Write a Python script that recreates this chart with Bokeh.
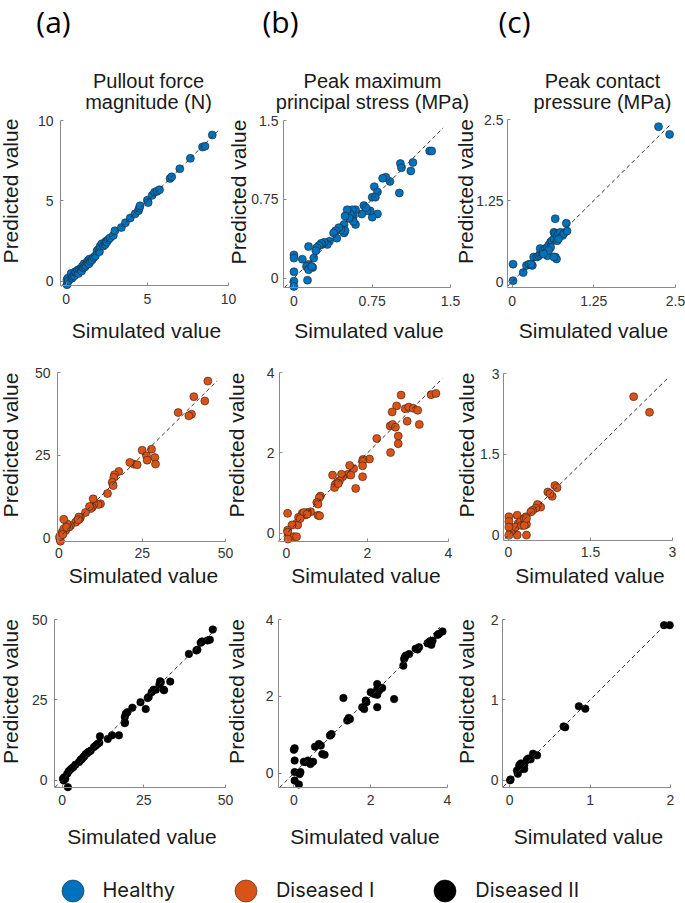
import math
from bokeh.plotting import figure
from bokeh.models import Range1d, FixedTicker, Label, Legend, LegendItem, LinearAxis
from bokeh.embed import file_html
from bokeh.resources import INLINE

# ---------------- data ----------------
panel_tags = ["(a)", "(b)", "(c)"]
column_titles = [["Pullout force", "magnitude (N)"],
                 ["Peak maximum", "principal stress (MPa)"],
                 ["Peak contact", "pressure (MPa)"]]
groups = ["Healthy", "Diseased I", "Diseased II"]
group_fill = ["#0072BD", "#D95319", "#000000"]
group_edge = ["#1b2733", "#3b1e0e", "#000000"]
x_label = "Simulated value"
y_label = "Predicted value"

# Healthy
healthy_force_sim = [0.05, 0.05, 0.1, 0.15, 0.3, 0.35, 0.4, 0.5, 0.55, 0.6, 0.7, 0.75, 0.8, 0.9, 0.95,
                     1.0, 1.05, 1.1, 1.15, 1.2, 1.3, 1.35, 1.4, 1.45, 1.5, 1.6, 1.7, 1.8, 1.9, 2.0,
                     2.05, 2.1, 2.2, 2.3, 2.4, 2.45, 2.5, 2.6, 2.7, 2.9, 3.0, 3.4, 3.65, 3.95, 4.25,
                     4.45, 4.5, 4.55, 5.0, 5.05, 5.3, 5.45, 5.6, 5.75, 6.4, 6.5, 7.0, 7.65, 8.4, 8.55, 9.0]
healthy_force_pred = [-0.2, 0.1, 0.2, 0.05, 0.5, 0.2, 0.3, 0.35, 0.6, 0.55, 0.7, 0.5, 0.75, 0.8, 0.65,
                      0.95, 0.85, 1.1, 0.9, 1.0, 1.2, 1.3, 1.1, 1.4, 1.25, 1.35, 1.5, 1.6, 1.9, 2.0,
                      1.85, 2.2, 2.35, 2.2, 2.3, 2.5, 2.45, 2.6, 2.7, 2.85, 3.15, 3.35, 3.65, 3.95, 4.2,
                      4.4, 4.55, 4.7, 5.05, 4.9, 5.35, 5.55, 5.6, 5.7, 6.4, 6.5, 7.0, 7.65, 8.35, 8.4, 9.1]

healthy_stress_sim = [1.30, 1.32, 1.14, 1.12, 1.02, 1.03, 1.01, 0.92, 0.88, 0.85, 0.77, 0.80, 0.75, 0.78,
                      0.80, 0.75, 0.73, 0.70, 0.67, 0.69, 0.65, 0.59, 0.57, 0.59, 0.57, 0.56, 0.54, 0.53,
                      0.51, 0.49, 0.48, 0.48, 0.49, 0.45, 0.43, 0.40, 0.38, 0.41, 0.34, 0.32, 0.29, 0.27,
                      0.26, 0.24, 0.22, 0.21, 0.19, 0.18, 0.14, 0.14, 0.12, 0.14, 0.13, 0.08, 0.0, 0.0,
                      0.0, 0.0, 0.0, 0.17]
healthy_stress_pred = [1.21, 1.21, 1.10, 1.02, 1.09, 1.05, 0.81, 0.92, 0.96, 0.95, 0.87, 0.82, 0.77, 0.77,
                       0.61, 0.58, 0.64, 0.64, 0.69, 0.67, 0.61, 0.65, 0.59, 0.51, 0.54, 0.65, 0.61, 0.57,
                       0.65, 0.59, 0.51, 0.43, 0.45, 0.46, 0.48, 0.45, 0.43, 0.38, 0.35, 0.32, 0.34, 0.32,
                       0.33, 0.31, 0.29, 0.26, 0.19, 0.10, 0.13, 0.30, 0.11, 0.08, -0.02, 0.18, 0.22, 0.19,
                       0.06, -0.03, -0.08, 0.11]

healthy_contact_sim = [2.24, 2.41, 0.015, 0.015, 0.17, 0.22, 0.26, 0.31, 0.29, 0.33, 0.38, 0.41, 0.43, 0.46,
                       0.43, 0.48, 0.51, 0.54, 0.56, 0.54, 0.59, 0.61, 0.64, 0.59, 0.66, 0.68, 0.64, 0.66,
                       0.64, 0.66, 0.69, 0.71, 0.74, 0.77, 0.79, 0.83, 0.84, 0.69, 0.71, 0.56, 0.48]
healthy_contact_pred = [2.39, 2.27, 0.015, 0.27, 0.14, 0.25, 0.27, 0.25, 0.27, 0.38, 0.38, 0.40, 0.43, 0.45,
                        0.51, 0.48, 0.51, 0.53, 0.56, 0.40, 0.61, 0.63, 0.66, 0.53, 0.38, 0.35, 0.38, 0.97,
                        0.76, 0.74, 0.71, 0.74, 0.76, 0.71, 0.74, 0.90, 0.78, 0.63, 0.66, 0.48, 0.43]

# Diseased I
d1_force_sim = [44.7, 40.5, 43.8, 39.8, 39.0, 35.8, 27.8, 25.0, 28.8, 26.3, 26.5, 29.0, 22.5, 23.5, 21.3,
                18.0, 16.7, 16.5, 16.0, 16.3, 14.6, 12.5, 11.8, 10.5, 10.0, 9.5, 10.3, 8.0, 6.5, 6.2,
                5.5, 5.0, 3.5, 3.0, 2.5, 1.5, 2.0, 1.0, 0.5, 0.3, 0.5, 1.5, 2.3, 6.0, 5.8, 9.2, 0.2, 1.2]
d1_force_pred = [47.4, 42.7, 41.4, 37.4, 36.9, 37.9, 26.8, 26.5, 24.3, 24.8, 23.5, 22.3, 22.3, 22.1, 22.8,
                 20.1, 19.1, 18.3, 16.8, 15.8, 13.4, 10.3, 10.1, 10.3, 9.2, 8.9, 11.8, 7.7, 6.2, 5.7,
                 5.2, 4.7, 3.7, 3.2, 4.2, 5.6, 2.2, 1.7, 0.7, -0.3, -1.0, 2.7, 3.2, 6.3, 5.5, 9.5, 0.3, 1.0]

d1_stress_sim = [3.57, 3.69, 2.83, 2.72, 2.61, 2.93, 3.02, 3.13, 3.24, 3.28, 2.98, 2.56, 2.62, 2.69, 2.76,
                 2.76, 2.57, 2.23, 2.05, 1.89, 1.88, 1.88, 1.88, 1.66, 1.56, 1.52, 1.59, 1.71, 1.39, 1.36,
                 1.31, 1.25, 1.20, 1.19, 1.14, 0.84, 0.81, 0.75, 0.78, 0.78, 0.82, 0.60, 0.52, 0.47, 0.39,
                 0.30, 0.25, 0.28, 0.14, 0.18, 0.25, 0.03, 0.03, 0.03, 0.04, 0.43, 0.51, 0.34, 1.28]
d1_stress_pred = [3.45, 3.48, 3.44, 3.17, 3.02, 3.10, 3.14, 3.11, 3.06, 2.71, 2.79, 2.67, 2.71, 2.64, 2.42,
                  2.23, 2.01, 2.36, 1.85, 1.84, 1.79, 1.68, 1.41, 1.61, 1.69, 1.47, 1.45, 1.12, 1.41, 1.47,
                  1.31, 1.26, 1.21, 1.14, 1.45, 0.93, 0.89, 0.77, 0.73, 0.45, 0.44, 0.54, 0.52, 0.46, 0.50,
                  0.40, 0.25, 0.21, 0.21, -0.08, -0.08, 0.50, 0.08, 0.03, -0.14, 0.52, 0.48, 0.37, 1.24]

d1_contact_sim = [2.29, 2.58, 0.85, 0.89, 0.80, 0.72, 0.76, 0.59, 0.53, 0.50, 0.44, 0.41, 0.33, 0.33, 0.25,
                  0.16, 0.18, 0.16, 0.10, 0.07, 0.04, 0.13, 0.22, 0.29, 0.32, 0.01, 0.01, 0.01, 0.01, 0.24,
                  0.29, 0.33]
d1_contact_pred = [2.57, 2.28, 0.92, 0.88, 0.72, 0.80, 0.77, 0.52, 0.57, 0.50, 0.46, 0.43, 0.20, 0.0, 0.28,
                   0.37, 0.22, 0.0, 0.12, 0.09, 0.06, 0.15, 0.25, 0.31, 0.34, 0.34, 0.25, 0.15, 0.0, 0.18,
                   0.18, 0.31]

# Diseased II
d2_force_sim = [46.1, 45.2, 44.5, 42.8, 42.4, 41.1, 41.4, 38.8, 33.1, 31.1, 31.2, 28.7, 28.0, 27.4, 26.5,
                25.6, 24.0, 21.5, 20.0, 19.5, 19.2, 19.2, 19.2, 17.4, 15.3, 14.0, 11.6, 11.4, 10.9, 10.4,
                9.8, 8.8, 8.0, 7.2, 6.5, 5.7, 5.2, 4.1, 3.4, 2.8, 2.1, 1.6, 0.7, 0.3, 1.8, 0.5, 1.0, 6.0,
                6.8, 7.6, 8.4, 30.2, 29.8, 30.0, 26.2]
d2_force_pred = [46.9, 43.7, 43.5, 43.2, 42.8, 40.4, 40.6, 39.3, 30.7, 28.2, 28.0, 28.2, 28.2, 27.4, 25.9,
                 22.2, 24.3, 22.6, 21.2, 20.7, 19.7, 18.1, 17.8, 14.0, 14.0, 12.9, 13.7, 11.7, 11.4, 10.9,
                 10.4, 9.3, 8.8, 8.1, 7.2, 6.4, 5.7, 4.9, 4.1, 3.6, 2.9, 2.1, 1.0, 0.5, -2.1, 0.0, 0.5, 6.6,
                 7.5, 8.4, 9.0, 30.5, 29.9, 30.8, 25.6]

d2_stress_sim = [3.87, 3.78, 3.74, 3.61, 3.58, 3.52, 3.48, 3.26, 3.22, 3.17, 3.00, 2.91, 2.87, 2.85, 2.61,
                 2.30, 2.17, 2.17, 2.17, 2.17, 2.22, 2.00, 2.09, 1.87, 1.83, 1.89, 1.78, 1.46, 1.39, 1.43,
                 1.29, 0.98, 0.94, 0.80, 0.74, 0.70, 0.65, 0.55, 0.50, 0.43, 0.37, 0.30, 0.26, 0.17, 0.15,
                 0.13, 0.02, 0.02, 0.02, 0.02, 0.0, 0.96, 1.41, 2.89, 3.55]
d2_stress_pred = [3.69, 3.63, 3.60, 3.45, 3.34, 3.41, 3.38, 3.28, 3.22, 3.24, 3.10, 3.06, 2.97, 2.80, 1.93,
                  2.22, 2.32, 2.19, 2.04, 1.72, 2.15, 2.11, 2.06, 1.89, 1.67, 1.85, 1.72, 1.41, 1.37, 1.44,
                  1.96, 1.02, 0.98, 0.48, 0.50, 0.72, 0.76, 0.69, 0.30, 0.24, 0.33, 0.29, 0.30, 0.03, -0.02,
                  -0.29, 0.65, 0.33, 0.03, -0.19, 0.61, 1.00, 1.39, 3.02, 3.44]

d2_contact_sim = [1.92, 1.99, 0.86, 0.94, 0.67, 0.69, 0.34, 0.29, 0.26, 0.23, 0.21, 0.18, 0.16, 0.14, 0.12,
                  0.10, 0.09, 0.12, 0.01, 0.005, 0.14, 0.18]
d2_contact_pred = [1.93, 1.93, 0.92, 0.89, 0.67, 0.66, 0.31, 0.33, 0.26, 0.27, 0.25, 0.19, 0.17, 0.14, 0.19,
                   0.08, 0.12, 0.17, 0.01, 0.0, 0.21, 0.14]

# axis limits, ticks and identity-line extents per panel (row-major)
x_limits = [[-0.35, 10], [-0.1, 1.5], [-0.07, 2.5],
            [-0.4, 50], [-0.17, 4], [-0.09, 3],
            [-2.3, 50], [-0.4, 4], [-0.09, 2]]
y_limits = [[-0.25, 10], [-0.09, 1.5], [-0.09, 2.5],
            [-1.1, 50], [-0.2, 4], [-0.1, 3],
            [-2.2, 50], [-0.37, 4], [-0.09, 2]]
tick_values = [[0, 5, 10], [0, 0.75, 1.5], [0, 1.25, 2.5],
               [0, 25, 50], [0, 2, 4], [0, 1.5, 3],
               [0, 25, 50], [0, 2, 4], [0, 1, 2]]
tick_labels = [["0", "5", "10"], ["0", "0.75", "1.5"], ["0", "1.25", "2.5"],
               ["0", "25", "50"], ["0", "2", "4"], ["0", "1.5", "3"],
               ["0", "25", "50"], ["0", "2", "4"], ["0", "1", "2"]]
identity_line = [[-0.3, 9.5], [-0.09, 1.43], [-0.07, 2.42],
                 [-0.4, 47.5], [-0.2, 3.85], [-0.07, 2.9],
                 [-2.2, 47.8], [-0.37, 3.8], [-0.08, 1.98]]
sims = [healthy_force_sim, healthy_stress_sim, healthy_contact_sim,
        d1_force_sim, d1_stress_sim, d1_contact_sim,
        d2_force_sim, d2_stress_sim, d2_contact_sim]
preds = [healthy_force_pred, healthy_stress_pred, healthy_contact_pred,
         d1_force_pred, d1_stress_pred, d1_contact_pred,
         d2_force_pred, d2_stress_pred, d2_contact_pred]

# ---------------- layout (canvas pixels, from top-left) ----------------
W, H = 685, 903
frames = [[(60, 228, 120, 285), (283, 450, 120, 287), (507, 675, 119, 287)],
          [(57, 225, 372, 541), (279, 448, 372, 541), (503, 672, 373, 540)],
          [(54, 225, 619, 787), (278, 447, 619, 787), (502, 670, 619, 787)]]
ylabel_x = [[10, 238, 465], [10, 236, 466], [10, 236, 466]]
ylabel_shift = -12
xlabel_y = [330, 575, 836]
x_tick_standoff = [8, 6, 7]
y_tick_standoff = [7, 5, 4]
marker_size = [8, 8, 7.5]
tag_pos = [(53, 21), (280, 21), (514, 21)]
title_cx = [148, 372, 602]
title_cy = [80, 101]
legend_circle_x = 72
legend_circle_y = 890
leg_glyph = 55

FONT = "Liberation Sans"
AXIS_COLOR = "#8a8a8a"
TICK_TEXT = "#333333"
LABEL_TEXT = "#1a1a1a"

p = figure(width=W, height=H, output_backend="svg", toolbar_location=None,
           x_range=Range1d(0, W), y_range=Range1d(0, H),
           x_axis_type=None, y_axis_type=None, min_border=0)
p.outline_line_color = None
p.grid.visible = False

extra_x, extra_y = {}, {}
for k in range(9):
    r, c = divmod(k, 3)
    L, R, T, B = frames[r][c]
    a, b = x_limits[k]
    ppx = (R - L) / (b - a)
    extra_x[f"x{k}"] = Range1d(a - L / ppx, b + (W - R) / ppx)
    c0, d0 = y_limits[k]
    ppy = (B - T) / (d0 - c0)
    extra_y[f"y{k}"] = Range1d(c0 - (H - B) / ppy, d0 + T / ppy)
p.extra_x_ranges = extra_x
p.extra_y_ranges = extra_y


def style_axis(ax, k, standoff):
    ax.ticker = FixedTicker(ticks=tick_values[k])
    ax.major_label_overrides = {t: s for t, s in zip(tick_values[k], tick_labels[k])}
    ax.axis_line_color = AXIS_COLOR
    ax.major_tick_line_color = AXIS_COLOR
    ax.major_tick_in = 3
    ax.major_tick_out = 0
    ax.minor_tick_line_color = None
    ax.major_label_text_font = FONT
    ax.major_label_text_font_size = "14px"
    ax.major_label_text_color = TICK_TEXT
    ax.major_label_standoff = standoff


renderers = []
for k in range(9):
    r, c = divmod(k, 3)
    L, R, T, B = frames[r][c]
    xn, yn = f"x{k}", f"y{k}"
    xa = LinearAxis(x_range_name=xn, y_range_name=yn, fixed_location=y_limits[k][0],
                    bounds=tuple(x_limits[k]))
    style_axis(xa, k, x_tick_standoff[r])
    p.add_layout(xa, "below")
    ya = LinearAxis(x_range_name=xn, y_range_name=yn, fixed_location=x_limits[k][0],
                    bounds=tuple(y_limits[k]))
    style_axis(ya, k, y_tick_standoff[c])
    p.add_layout(ya, "left")

    sr = p.scatter(sims[k], preds[k], size=marker_size[r], marker="circle",
                   fill_color=group_fill[r], line_color=group_edge[r], line_width=0.6,
                   x_range_name=xn, y_range_name=yn)
    renderers.append(sr)
    p.line(identity_line[k], identity_line[k], line_color="#333333", line_width=1,
           line_dash="4 3", x_range_name=xn, y_range_name=yn)

    # axis titles
    p.add_layout(Label(x=(L + R) / 2 + 2, y=H - xlabel_y[r], x_units="screen", y_units="screen",
                       text=x_label, text_align="center", text_baseline="middle",
                       text_font=FONT, text_font_size="21px", text_color=LABEL_TEXT))
    p.add_layout(Label(x=ylabel_x[r][c], y=H - ((T + B) / 2 + ylabel_shift),
                       x_units="screen", y_units="screen", text=y_label, angle=math.pi / 2,
                       text_align="center", text_baseline="middle",
                       text_font=FONT, text_font_size="21px", text_color=LABEL_TEXT))

# column headers
for c in range(3):
    p.add_layout(Label(x=tag_pos[c][0], y=H - tag_pos[c][1], x_units="screen", y_units="screen",
                       text=panel_tags[c], text_align="center", text_baseline="middle",
                       text_font="Open Sans", text_font_size="30px", text_color="#000000"))
    for i, line in enumerate(column_titles[c]):
        p.add_layout(Label(x=title_cx[c], y=H - title_cy[i], x_units="screen", y_units="screen",
                           text=line, text_align="center", text_baseline="middle",
                           text_font=FONT, text_font_size="20px", text_color=LABEL_TEXT))

# legend (uses the first panel of each group row)
items = [LegendItem(label=g, renderers=[renderers[3 * i]]) for i, g in enumerate(groups)]
legend = Legend(items=items, orientation="horizontal",
                location=(legend_circle_x - leg_glyph / 2, (H - legend_circle_y) - leg_glyph / 2),
                glyph_width=leg_glyph, glyph_height=leg_glyph, label_standoff=3, spacing=43,
                padding=0, margin=0, border_line_color=None, background_fill_alpha=0,
                label_text_font="Inter", label_text_font_size="20px", label_text_color=LABEL_TEXT,
                label_text_baseline="middle")
p.add_layout(legend, "center")

open("out.html", "w").write(file_html(p, INLINE))
